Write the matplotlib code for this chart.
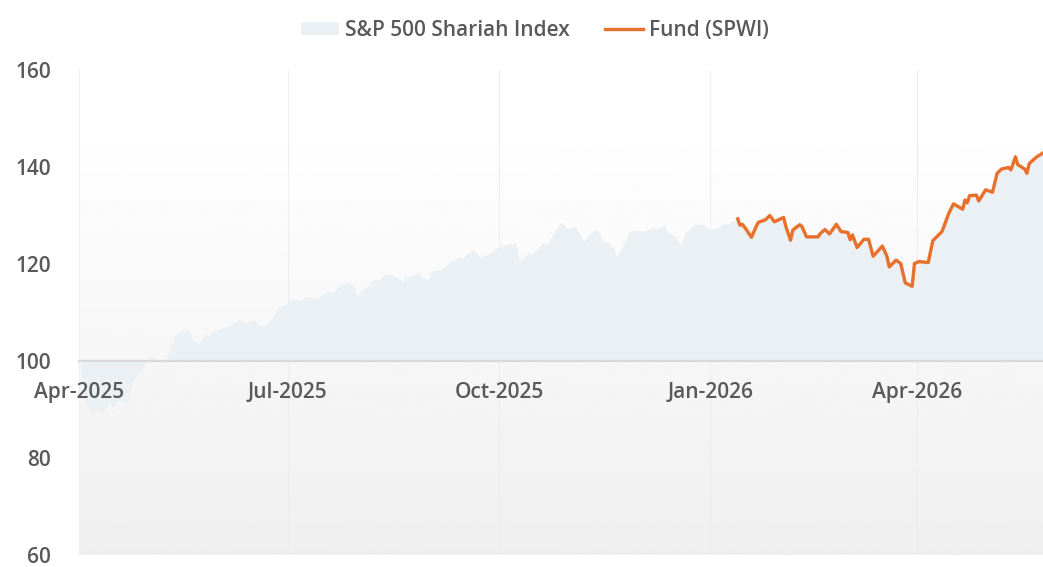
import numpy as np
import pandas as pd
import matplotlib
matplotlib.use("Agg")
import matplotlib.pyplot as plt
import matplotlib.dates as mdates
from matplotlib.patches import Patch
from matplotlib.lines import Line2D

# ===== data (rebased to 100) =====
index_dates = [
    "2025-04-02", "2025-04-04", "2025-04-07", "2025-04-09", "2025-04-11", "2025-04-14",
    "2025-04-16", "2025-04-18", "2025-04-22", "2025-04-24", "2025-04-26", "2025-04-29",
    "2025-05-01", "2025-05-03", "2025-05-06", "2025-05-09", "2025-05-13", "2025-05-16",
    "2025-05-19", "2025-05-20", "2025-05-23", "2025-05-26", "2025-05-27", "2025-05-30",
    "2025-06-02", "2025-06-06", "2025-06-10", "2025-06-12", "2025-06-13", "2025-06-16",
    "2025-06-19", "2025-06-23", "2025-06-27", "2025-06-30", "2025-07-03", "2025-07-06",
    "2025-07-09", "2025-07-14", "2025-07-17", "2025-07-21", "2025-07-24", "2025-07-27",
    "2025-07-30", "2025-07-31", "2025-08-03", "2025-08-05", "2025-08-07", "2025-08-10",
    "2025-08-12", "2025-08-16", "2025-08-19", "2025-08-20", "2025-08-21", "2025-08-23",
    "2025-08-27", "2025-08-28", "2025-08-31", "2025-09-02", "2025-09-06", "2025-09-08",
    "2025-09-10", "2025-09-14", "2025-09-15", "2025-09-18", "2025-09-20", "2025-09-23",
    "2025-09-25", "2025-09-27", "2025-10-01", "2025-10-03", "2025-10-06", "2025-10-07",
    "2025-10-08", "2025-10-10", "2025-10-14", "2025-10-15", "2025-10-18", "2025-10-20",
    "2025-10-22", "2025-10-24", "2025-10-28", "2025-10-31", "2025-11-03", "2025-11-05",
    "2025-11-07", "2025-11-09", "2025-11-12", "2025-11-13", "2025-11-15", "2025-11-18",
    "2025-11-19", "2025-11-20", "2025-11-21", "2025-11-24", "2025-11-27", "2025-11-30",
    "2025-12-03", "2025-12-07", "2025-12-09", "2025-12-12", "2025-12-13", "2025-12-17",
    "2025-12-19", "2025-12-21", "2025-12-25", "2025-12-29", "2026-01-01", "2026-01-05",
    "2026-01-07", "2026-01-09", "2026-01-10", "2026-01-12",
]
index_values = [
    97.5, 91.0, 88.5, 90.0, 89.0, 91.5,
    90.5, 92.0, 91.5, 95.5, 97.0, 98.3,
    100.7, 100.9, 99.8, 100.3, 105.4, 106.3,
    106.3, 104.7, 103.5, 105.6, 105.2, 106.1,
    106.7, 107.4, 108.6, 108.1, 107.8, 108.6,
    107.1, 107.8, 111.2, 111.6, 112.9, 112.4,
    113.3, 112.9, 114.0, 114.3, 115.7, 116.1,
    115.5, 113.4, 115.0, 115.3, 116.7, 116.8,
    117.9, 117.7, 116.7, 116.0, 117.5, 117.4,
    118.4, 117.4, 116.7, 118.6, 118.9, 119.6,
    120.6, 121.5, 121.0, 122.5, 123.0, 121.2,
    121.9, 122.2, 123.6, 123.7, 124.4, 123.9,
    124.6, 120.5, 122.5, 122.0, 123.2, 124.4,
    123.8, 125.8, 128.7, 127.3, 127.9, 126.3,
    124.6, 126.0, 127.1, 127.0, 124.9, 124.3,
    123.2, 123.7, 121.4, 123.6, 126.7, 127.0,
    126.7, 127.6, 127.3, 128.2, 126.7, 125.6,
    123.9, 126.3, 128.2, 128.2, 126.9, 127.7,
    128.4, 128.2, 128.9, 129.0,
]

fund_dates = [
    "2026-01-13", "2026-01-14", "2026-01-15", "2026-01-16", "2026-01-19", "2026-01-21",
    "2026-01-22", "2026-01-25", "2026-01-27", "2026-01-29", "2026-02-02", "2026-02-03",
    "2026-02-05", "2026-02-06", "2026-02-09", "2026-02-10", "2026-02-12", "2026-02-17",
    "2026-02-18", "2026-02-20", "2026-02-22", "2026-02-25", "2026-02-27", "2026-03-02",
    "2026-03-03", "2026-03-04", "2026-03-06", "2026-03-09", "2026-03-11", "2026-03-13",
    "2026-03-17", "2026-03-19", "2026-03-20", "2026-03-23", "2026-03-25", "2026-03-27",
    "2026-03-30", "2026-03-31", "2026-04-02", "2026-04-06", "2026-04-08", "2026-04-12",
    "2026-04-15", "2026-04-17", "2026-04-21", "2026-04-22", "2026-04-23", "2026-04-24",
    "2026-04-27", "2026-04-28", "2026-05-01", "2026-05-04", "2026-05-06", "2026-05-08",
    "2026-05-11", "2026-05-12", "2026-05-14", "2026-05-15", "2026-05-18", "2026-05-19",
    "2026-05-20", "2026-05-23", "2026-05-26",
]
fund_values = [
    129.3, 128.0, 128.2, 127.6, 125.5, 127.7,
    128.6, 129.1, 130.0, 128.7, 129.6, 127.7,
    124.9, 127.0, 128.1, 127.7, 125.6, 125.6,
    126.3, 127.1, 126.2, 128.2, 126.7, 126.5,
    125.0, 126.0, 123.4, 125.1, 125.1, 121.6,
    123.7, 121.6, 119.4, 120.8, 120.1, 116.1,
    115.4, 120.1, 120.5, 120.3, 124.8, 126.7,
    130.5, 132.4, 131.3, 133.2, 132.6, 134.1,
    134.2, 133.0, 135.3, 134.8, 138.7, 139.6,
    139.9, 139.4, 142.1, 140.5, 139.6, 138.7,
    140.7, 142.0, 142.9,
]

x_ticks = ["2025-04-01", "2025-07-01", "2025-10-01", "2026-01-01", "2026-04-01"]
y_ticks = [60, 80, 100, 120, 140, 160]

# the index area runs underneath the fund line once the fund exists
idx_x = pd.to_datetime(index_dates + fund_dates)
idx_y = np.array(index_values + fund_values)
fund_x = pd.to_datetime(fund_dates)
fund_y = np.array(fund_values)

plt.rcParams["font.family"] = ["Open Sans", "DejaVu Sans"]
text_col = "#595959"

fig = plt.figure(figsize=(10.43, 5.67), dpi=100)
ax = fig.add_axes([0.0757, 0.0212, 0.9243, 0.8553])

x0, x1 = pd.Timestamp("2025-04-01"), pd.Timestamp("2026-05-26")
ax.set_xlim(x0, x1)
ax.set_ylim(60, 160)

# soft vertical gradient background, white at the top
t = np.linspace(0, 1, 256)
grad = np.interp(t, [0, 0.1, 1], [1.0, 1.0, 0.937]).reshape(-1, 1)
ax.imshow(grad, cmap="gray", vmin=0, vmax=1, aspect="auto", zorder=0,
          extent=[mdates.date2num(x0), mdates.date2num(x1), 60, 160], origin="upper")

ax.fill_between(idx_x, idx_y, 100, color="#eaf0f3", linewidth=0, zorder=1)
ax.plot(fund_x, fund_y, color="#e8702a", linewidth=2.4, zorder=3,
        solid_joinstyle="round")

for d in x_ticks:
    ax.axvline(pd.Timestamp(d), color="#eeeeee", linewidth=0.8, zorder=0.5)

ax.set_xticks(pd.to_datetime(x_ticks))
ax.xaxis.set_major_formatter(mdates.DateFormatter("%b-%Y"))
ax.set_yticks(y_ticks)

for s in ["top", "right", "left"]:
    ax.spines[s].set_visible(False)
ax.spines["bottom"].set_position(("data", 100))
ax.spines["bottom"].set_color("#d9d9d9")
ax.spines["bottom"].set_linewidth(1.6)
ax.spines["bottom"].set_zorder(2)

ax.tick_params(axis="x", length=0, pad=15, labelsize=15, labelcolor=text_col)
ax.tick_params(axis="y", length=0, pad=20, labelsize=15, labelcolor=text_col)
for lab in ax.get_xticklabels() + ax.get_yticklabels():
    lab.set_fontweight("semibold")

handles = [Patch(facecolor="#eaf0f3", edgecolor="none"),
           Line2D([0], [0], color="#e8702a", linewidth=2.4)]
leg = fig.legend(handles, ["S&P 500 Shariah Index", "Fund (SPWI)"],
                 loc="center", bbox_to_anchor=(0.513, 0.946), ncol=2, frameon=False,
                 fontsize=15, handlelength=1.8, handleheight=0.6, columnspacing=1.7,
                 handletextpad=0.3)
for txt in leg.get_texts():
    txt.set_color(text_col)
    txt.set_fontweight("semibold")

fig.savefig("out.png", dpi=100)
